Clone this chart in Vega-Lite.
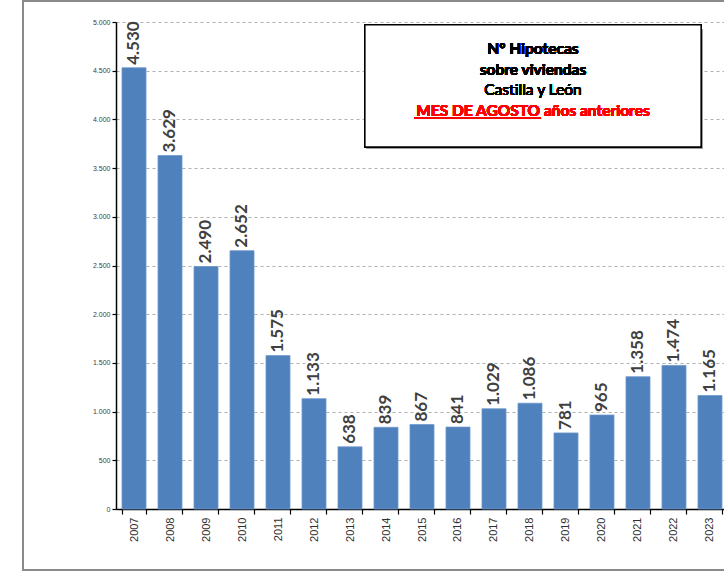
{
  "$schema": "https://vega.github.io/schema/vega-lite/v6.json",
  "autosize": "none",
  "width": 612,
  "height": 487,
  "padding": {"left": 116, "top": 22, "right": 0, "bottom": 68},
  "background": "white",
  "config": {
    "font": "Lato",
    "view": {"stroke": null},
    "locale": {"number": {"decimal": ",", "thousands": ".", "grouping": [3], "currency": ["", " €"]}}
  },
  "data": {
    "values": [
      {"year": "2007", "value": 4530},
      {"year": "2008", "value": 3629},
      {"year": "2009", "value": 2490},
      {"year": "2010", "value": 2652},
      {"year": "2011", "value": 1575},
      {"year": "2012", "value": 1133},
      {"year": "2013", "value": 638},
      {"year": "2014", "value": 839},
      {"year": "2015", "value": 867},
      {"year": "2016", "value": 841},
      {"year": "2017", "value": 1029},
      {"year": "2018", "value": 1086},
      {"year": "2019", "value": 781},
      {"year": "2020", "value": 965},
      {"year": "2021", "value": 1358},
      {"year": "2022", "value": 1474},
      {"year": "2023", "value": 1165}
    ]
  },
  "resolve": {"scale": {"x": "independent"}, "axis": {"x": "independent"}},
  "layer": [
    {
      "layer": [
        {
          "mark": {"type": "bar", "color": "#4F81BD", "stroke": "#6E97CC", "strokeWidth": 0.8},
          "encoding": {
            "x": {
              "field": "year", "type": "ordinal",
              "scale": {"paddingInner": 0.333, "paddingOuter": 0.167},
              "axis": {
                "title": null, "labelAngle": -90, "labelFontSize": 11, "labelColor": "#303030",
                "labelFont": "Liberation Sans", "labelPadding": 3,
                "tickBand": "extent", "tickColor": "#000000", "tickSize": 5, "tickWidth": 1.2,
                "domainColor": "#000000", "domainWidth": 1.5, "grid": false
              }
            },
            "y": {
              "field": "value", "type": "quantitative",
              "scale": {"domain": [0, 5000], "nice": false},
              "axis": {
                "title": null,
                "values": [0,250,500,750,1000,1250,1500,1750,2000,2250,2500,2750,3000,3250,3500,3750,4000,4250,4500,4750,5000],
                "format": ",.0f",
                "labelExpr": "datum.value % 500 === 0 ? datum.label : ''",
                "labelFontSize": 7, "labelColor": "#404040", "labelFont": "Liberation Sans", "labelPadding": 2,
                "tickColor": "#000000", "tickSize": 4, "tickWidth": 1.2, "domainColor": "#000000", "domainWidth": 1.5,
                "grid": true, "gridColor": "#b0b0b0", "gridDash": [3, 3],
                "gridOpacity": {"condition": {"test": "datum.value % 500 === 0 && datum.value > 0", "value": 1}, "value": 0}
              }
            }
          }
        },
        {
          "mark": {"type": "text", "angle": 270, "align": "left", "baseline": "middle", "dx": 3, "fontSize": 17, "fontWeight": "bold", "color": "#404040"},
          "encoding": {
            "x": {"field": "year", "type": "ordinal"},
            "y": {"field": "value", "type": "quantitative"},
            "text": {"field": "value", "type": "quantitative", "format": ",.0f"}
          }
        }
      ]
    },
    {
      "layer": [
        {
          "mark": {"type": "rect", "fill": null, "stroke": "#8a8a8a", "strokeWidth": 1.5},
          "encoding": {
            "x": {"datum": -2.583, "type": "quantitative", "scale": {"domain": [0, 17], "nice": false, "zero": false}, "axis": null},
            "x2": {"datum": 17.6},
            "y": {"datum": 5216, "type": "quantitative"},
            "y2": {"datum": -626}
          }
        },
        {
          "mark": {"type": "rect", "fill": "#a0a0a0"},
          "encoding": {
            "x": {"datum": 6.97, "type": "quantitative", "axis": null},
            "x2": {"datum": 16.3},
            "y": {"datum": 4920, "type": "quantitative"},
            "y2": {"datum": 3697}
          }
        },
        {
          "mark": {"type": "rect", "fill": "white", "stroke": "#000000", "strokeWidth": 1.2},
          "encoding": {
            "x": {"datum": 6.917, "type": "quantitative", "axis": null},
            "x2": {"datum": 16.25},
            "y": {"datum": 4969, "type": "quantitative"},
            "y2": {"datum": 3717}
          }
        },
        {
          "mark": {"type": "text", "align": "center", "baseline": "middle", "fontSize": 15.5, "fontWeight": "bold", "color": "#000000"},
          "encoding": {
            "x": {"datum": 11.583, "type": "quantitative", "axis": null},
            "y": {"datum": 4723, "type": "quantitative"},
            "text": {"value": "Nº Hipotecas"}
          }
        },
        {
          "mark": {"type": "text", "align": "center", "baseline": "middle", "fontSize": 15.5, "fontWeight": "bold", "color": "#000000"},
          "encoding": {
            "x": {"datum": 11.583, "type": "quantitative", "axis": null},
            "y": {"datum": 4507, "type": "quantitative"},
            "text": {"value": "sobre viviendas"}
          }
        },
        {
          "mark": {"type": "text", "align": "center", "baseline": "middle", "fontSize": 15.5, "color": "#000000"},
          "encoding": {
            "x": {"datum": 11.583, "type": "quantitative", "axis": null},
            "y": {"datum": 4300, "type": "quantitative"},
            "text": {"value": "Castilla y León"}
          }
        },
        {
          "mark": {"type": "text", "align": "center", "baseline": "middle", "fontSize": 15.5, "fontWeight": "bold", "color": "#FF0000"},
          "encoding": {
            "x": {"datum": 11.583, "type": "quantitative", "axis": null},
            "y": {"datum": 4086, "type": "quantitative"},
            "text": {"value": "MES DE AGOSTO  años anteriores"}
          }
        },
        {
          "mark": {"type": "rule", "color": "#FF0000", "strokeWidth": 1.5},
          "encoding": {
            "x": {"datum": 8.278, "type": "quantitative", "axis": null},
            "x2": {"datum": 11.806},
            "y": {"datum": 4011, "type": "quantitative"}
          }
        }
      ]
    }
  ]
}
